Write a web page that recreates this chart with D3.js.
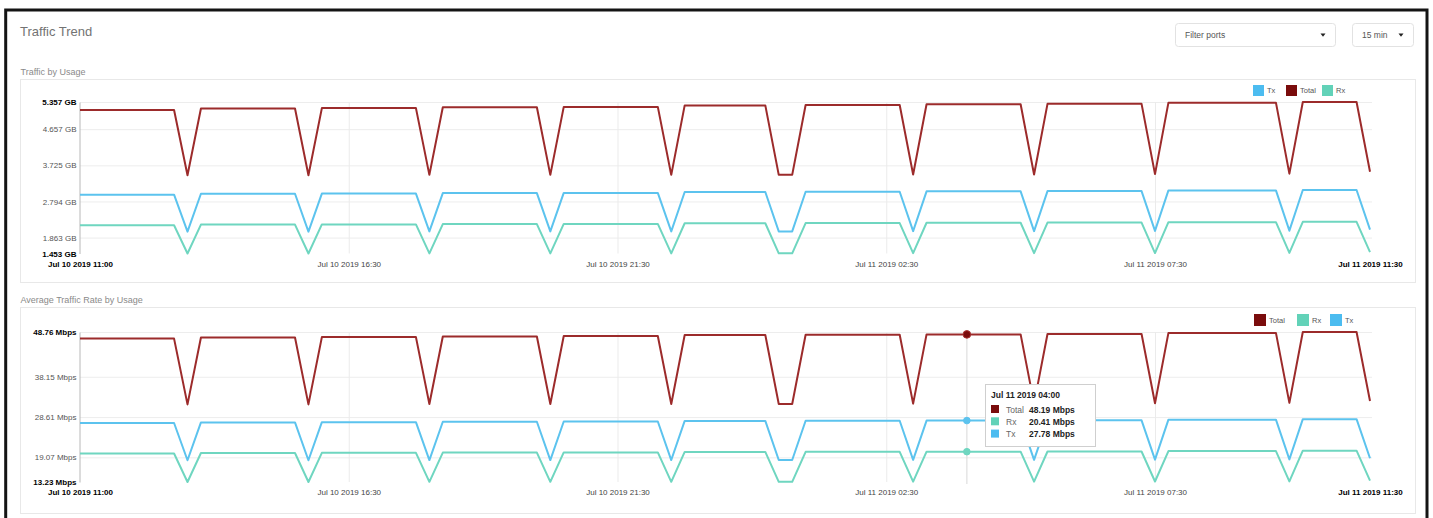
<!DOCTYPE html>
<html>
<head>
<meta charset="utf-8">
<script src="https://cdn.jsdelivr.net/npm/d3@7"></script>
<style>
  body { margin: 0; background: #fff; }
  svg { display: block; }
</style>
</head>
<body>
<script>
// sample times where the lines change direction (15 min samples)
const times = [
  "2019-07-10 11:30", "2019-07-10 13:15", "2019-07-10 13:30", "2019-07-10 13:45",
  "2019-07-10 15:30", "2019-07-10 15:45", "2019-07-10 16:00",
  "2019-07-10 17:45", "2019-07-10 18:00", "2019-07-10 18:15",
  "2019-07-10 20:00", "2019-07-10 20:15", "2019-07-10 20:30",
  "2019-07-10 22:15", "2019-07-10 22:30", "2019-07-10 22:45",
  "2019-07-11 00:15", "2019-07-11 00:30", "2019-07-11 00:45", "2019-07-11 01:00",
  "2019-07-11 02:45", "2019-07-11 03:00", "2019-07-11 03:15",
  "2019-07-11 05:00", "2019-07-11 05:15", "2019-07-11 05:30",
  "2019-07-11 07:15", "2019-07-11 07:30", "2019-07-11 07:45",
  "2019-07-11 09:45", "2019-07-11 10:00", "2019-07-11 10:15",
  "2019-07-11 11:15", "2019-07-11 11:30"
];

// Traffic by Usage (GB)
const usageTotal = [5.15, 5.15, 3.47, 5.19, 5.19, 3.47, 5.20, 5.20, 3.48, 5.22, 5.22, 3.48,
  5.23, 5.23, 3.48, 5.27, 5.27, 3.48, 3.48, 5.28, 5.28, 3.49, 5.30, 5.30, 3.49,
  5.31, 5.31, 3.50, 5.34, 5.34, 3.51, 5.357, 5.357, 3.56];
const usageTx = [2.969, 2.969, 2.017, 2.992, 2.992, 2.017, 2.998, 2.998, 2.023, 3.009, 3.009, 2.023,
  3.015, 3.015, 2.023, 3.038, 3.038, 2.023, 2.023, 3.044, 3.044, 2.029, 3.055, 3.055, 2.029,
  3.061, 3.061, 2.035, 3.079, 3.079, 2.041, 3.088, 3.088, 2.07];
const usageRx = [2.181, 2.181, 1.453, 2.198, 2.198, 1.453, 2.202, 2.202, 1.457, 2.211, 2.211, 1.457,
  2.215, 2.215, 1.457, 2.232, 2.232, 1.457, 1.457, 2.236, 2.236, 1.461, 2.245, 2.245, 1.461,
  2.249, 2.249, 1.465, 2.261, 2.261, 1.469, 2.269, 2.269, 1.49];

// Average Traffic Rate by Usage (Mbps)
const rateTotal = [47.20, 47.20, 31.61, 47.45, 47.45, 31.61, 47.55, 47.55, 31.70, 47.70, 47.70, 31.70,
  47.80, 47.80, 31.70, 48.05, 48.05, 31.70, 31.70, 48.10, 48.10, 31.79, 48.19, 48.19, 31.79,
  48.30, 48.30, 31.88, 48.55, 48.55, 31.97, 48.76, 48.76, 32.43];
const rateRx = [19.99, 19.99, 13.23, 20.10, 20.10, 13.23, 20.14, 20.14, 13.27, 20.20, 20.20, 13.27,
  20.24, 20.24, 13.27, 20.35, 20.35, 13.27, 13.27, 20.37, 20.37, 13.31, 20.41, 20.41, 13.31,
  20.46, 20.46, 13.35, 20.56, 20.56, 13.38, 20.65, 20.65, 13.57];
const rateTx = [27.21, 27.21, 18.38, 27.35, 27.35, 18.38, 27.41, 27.41, 18.43, 27.50, 27.50, 18.43,
  27.56, 27.56, 18.43, 27.70, 27.70, 18.43, 18.43, 27.73, 27.73, 18.48, 27.78, 27.78, 18.48,
  27.84, 27.84, 18.53, 27.99, 27.99, 18.59, 28.11, 28.11, 18.86];

const usageTicks = [5.357, 4.657, 3.725, 2.794, 1.863, 1.453];
const rateTicks = [48.76, 38.15, 28.61, 19.07, 13.23];

const xTickTimes = ["2019-07-10 11:30", "2019-07-10 16:30", "2019-07-10 21:30",
  "2019-07-11 02:30", "2019-07-11 07:30", "2019-07-11 11:30"];
const xTickLabels = ["Jul 10 2019 11:00", "Jul 10 2019 16:30", "Jul 10 2019 21:30",
  "Jul 11 2019 02:30", "Jul 11 2019 07:30", "Jul 11 2019 11:30"];

const hoverTime = "2019-07-11 04:00";
const hoverNames = ["Total", "Rx", "Tx"];
const hoverValues = [48.19, 20.41, 27.78];

const FONT = "'Liberation Sans', Arial, sans-serif";
const colors = { Total: "#9c2b2b", Tx: "#5cc3ee", Rx: "#6fd6c0" };
const legendColors = { Total: "#7a0c0c", Tx: "#4cbcf0", Rx: "#62d2b8" };

const parse = d3.timeParse("%Y-%m-%d %H:%M");
const T = times.map(parse);
const tickT = xTickTimes.map(parse);

const svg = d3.select("body").append("svg")
    .attr("width", 1433)
    .attr("height", 518)
    .attr("font-family", FONT);

const x = d3.scaleTime().domain([T[0], T[T.length - 1]]).range([80, 1370]);

// page frame and header
svg.append("rect").attr("x", 5.7).attr("y", 10).attr("width", 1421.3).attr("height", 512)
    .attr("fill", "none").attr("stroke", "#141414").attr("stroke-width", 3);

svg.append("text").attr("x", 20).attr("y", 36).attr("font-size", 13).attr("fill", "#737373")
    .text("Traffic Trend");

function dropdown(x0, w, label) {
  svg.append("rect").attr("x", x0 + 0.5).attr("y", 23.5).attr("width", w).attr("height", 23)
      .attr("rx", 3).attr("fill", "#fff").attr("stroke", "#e2e2e2");
  svg.append("text").attr("x", x0 + 10).attr("y", 38).attr("font-size", 8.5).attr("fill", "#555")
      .text(label);
  const cx = x0 + w - 12;
  svg.append("path").attr("d", `M${cx - 2.5},33.5 L${cx + 2.5},33.5 L${cx},36.8 Z`).attr("fill", "#222");
}
dropdown(1175, 160, "Filter ports");
dropdown(1352, 61, "15 min");

function panel(y0, h, title) {
  svg.append("text").attr("x", 20.5).attr("y", y0 - 4.5).attr("font-size", 9).attr("fill", "#8a8a8a")
      .text(title);
  svg.append("rect").attr("x", 20.5).attr("y", y0 + 0.5).attr("width", 1395).attr("height", h)
      .attr("fill", "none").attr("stroke", "#e8e8e8");
}
panel(79, 203, "Traffic by Usage");
panel(307, 206, "Average Traffic Rate by Usage");

function drawChart(o) {
  const g = svg.append("g");
  const all = o.series.flatMap(s => s.values);
  const y = d3.scaleLinear().domain(d3.extent(all)).range([o.bottom, o.top]);
  const [lo, hi] = y.domain();

  // horizontal grid
  g.append("g").attr("transform", "translate(80,0)")
      .call(d3.axisLeft(y).tickValues(o.ticks.filter(v => v !== lo)).tickSize(-1292).tickFormat(""))
      .call(a => a.select(".domain").remove())
      .selectAll("line").attr("stroke", "#ededed");

  // vertical grid
  g.append("g").attr("transform", `translate(0,${o.bottom})`)
      .call(d3.axisBottom(x).tickValues(tickT.slice(1, -1)).tickSize(-(o.bottom - o.top)).tickFormat(""))
      .call(a => a.select(".domain").remove())
      .selectAll("line").attr("stroke", "#ebebeb");

  // y axis
  g.append("g").attr("transform", "translate(79.5,0)")
      .call(d3.axisLeft(y).tickValues(o.ticks).tickSize(0).tickSizeOuter(0).tickPadding(3).tickFormat(o.fmt))
      .call(a => a.attr("font-family", FONT))
      .call(a => a.select(".domain").attr("stroke", "#b8b8b8"))
      .selectAll("text")
      .attr("font-size", 8)
      .attr("fill", d => (d === lo || d === hi) ? "#000" : "#555")
      .attr("font-weight", d => (d === lo || d === hi) ? "bold" : "normal");

  // x axis labels
  g.append("g").attr("transform", `translate(0,${o.bottom})`)
      .call(d3.axisBottom(x).tickValues(tickT).tickSize(0).tickPadding(o.xPad).tickFormat((d, i) => xTickLabels[i]))
      .call(a => a.attr("font-family", FONT))
      .call(a => a.select(".domain").remove())
      .selectAll("text")
      .attr("font-size", 8)
      .attr("fill", (d, i) => (i === 0 || i === tickT.length - 1) ? "#000" : "#444")
      .attr("font-weight", (d, i) => (i === 0 || i === tickT.length - 1) ? "bold" : "normal");

  // lines
  const line = d3.line().x(d => x(d.t)).y(d => y(d.v));
  o.series.forEach(s => {
    g.append("path")
        .datum(s.values.map((v, i) => ({ t: T[i], v })))
        .attr("d", line)
        .attr("fill", "none")
        .attr("stroke", colors[s.name])
        .attr("stroke-width", 2)
        .attr("stroke-linejoin", "round");
  });

  // legend
  o.legend.forEach((name, i) => {
    g.append("rect").attr("x", o.legendPos[i]).attr("y", o.legendY)
        .attr("width", o.legendSize).attr("height", o.legendSize)
        .attr("fill", legendColors[name]);
    g.append("text").attr("x", o.legendPos[i] + o.legendSize + 3).attr("y", o.legendY + o.legendSize - 3)
        .attr("font-size", 7.5).attr("fill", "#555").text(name);
  });
  return y;
}

drawChart({
  top: 102, bottom: 253.5, xPad: 7.6,
  ticks: usageTicks, fmt: d => d.toFixed(3) + " GB",
  series: [
    { name: "Rx", values: usageRx },
    { name: "Tx", values: usageTx },
    { name: "Total", values: usageTotal }
  ],
  legend: ["Tx", "Total", "Rx"], legendPos: [1253, 1286, 1322], legendY: 85, legendSize: 11
});

const yRate = drawChart({
  top: 332, bottom: 482, xPad: 7,
  ticks: rateTicks, fmt: d => d.toFixed(2) + " Mbps",
  series: [
    { name: "Rx", values: rateRx },
    { name: "Tx", values: rateTx },
    { name: "Total", values: rateTotal }
  ],
  legend: ["Total", "Rx", "Tx"], legendPos: [1254, 1297, 1330], legendY: 314, legendSize: 12
});

// hover marker and tooltip on the rate chart
const hx = x(parse(hoverTime));
svg.append("line").attr("x1", hx).attr("x2", hx).attr("y1", 332).attr("y2", 484)
    .attr("stroke", "#d8d8d8");
hoverNames.forEach((name, i) => {
  svg.append("circle").attr("cx", hx).attr("cy", yRate(hoverValues[i]))
      .attr("r", name === "Total" ? 3.8 : 3.3)
      .attr("fill", name === "Total" ? legendColors.Total : colors[name])
      .attr("stroke", name === "Total" ? "#a33" : colors[name]);
});

const tip = svg.append("g").attr("transform", "translate(985,384)");
tip.append("rect").attr("x", 0.5).attr("y", 0.5).attr("width", 110).attr("height", 62)
    .attr("fill", "#fff").attr("stroke", "#cfcfcf");
tip.append("text").attr("x", 6).attr("y", 14).attr("font-size", 8.5).attr("font-weight", "bold")
    .attr("fill", "#222").text("Jul 11 2019 04:00");
hoverNames.forEach((name, i) => {
  const ry = 21 + i * 12.3;
  tip.append("rect").attr("x", 6).attr("y", ry).attr("width", 8).attr("height", 8)
      .attr("fill", legendColors[name]);
  tip.append("text").attr("x", 21).attr("y", ry + 7.5).attr("font-size", 8.5).attr("fill", "#666")
      .text(name);
  tip.append("text").attr("x", 44).attr("y", ry + 7.5).attr("font-size", 8.5).attr("font-weight", "bold")
      .attr("fill", "#222").text(hoverValues[i].toFixed(2) + " Mbps");
});
</script>
</body>
</html>
